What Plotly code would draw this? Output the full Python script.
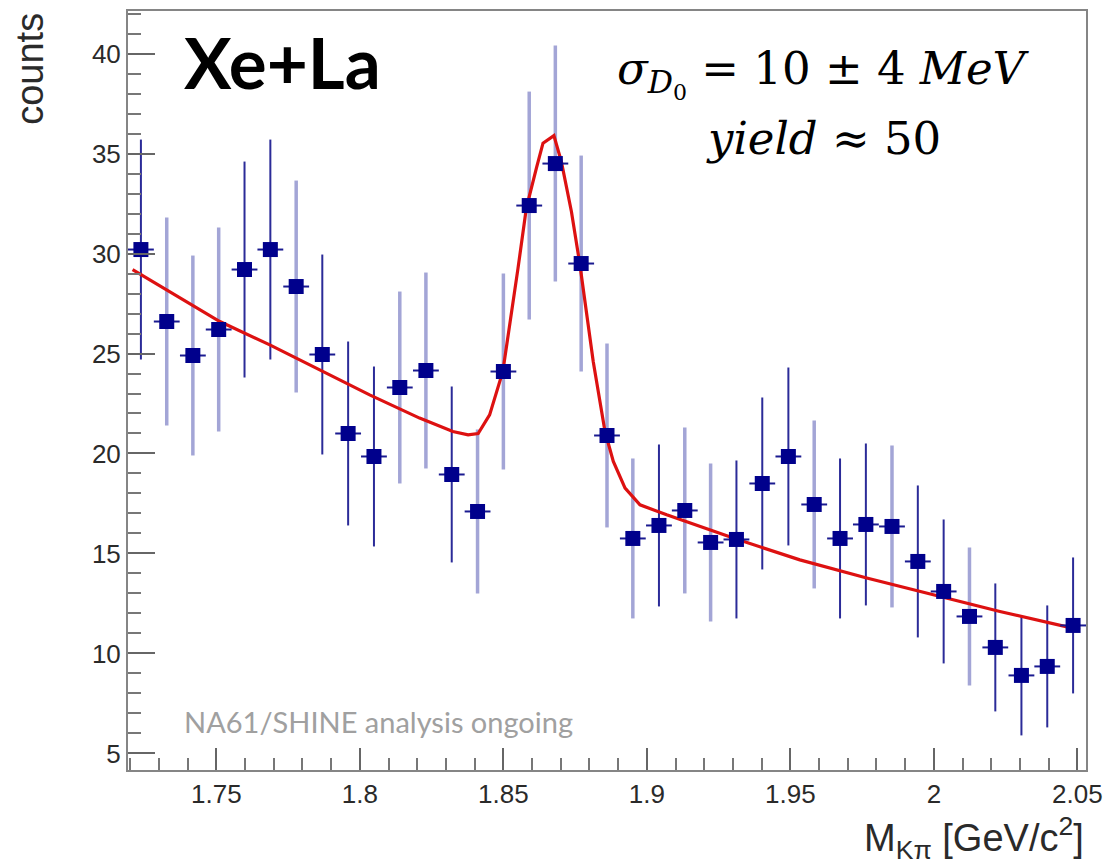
import plotly.graph_objects as go

# ---- data ----
mass = [1.7237, 1.7327, 1.7418, 1.7508, 1.7598, 1.7688, 1.7778, 1.7869, 1.7959,
        1.8049, 1.8139, 1.8230, 1.8320, 1.8410, 1.8500, 1.8590, 1.8681, 1.8771,
        1.8861, 1.8951, 1.9042, 1.9132, 1.9222, 1.9312, 1.9402, 1.9493, 1.9583,
        1.9673, 1.9763, 1.9854, 1.9944, 2.0034, 2.0124, 2.0214, 2.0305, 2.0395, 2.0485]
counts = [30.2, 26.6, 24.9, 26.2, 29.2, 30.2, 28.35, 24.95, 21.0, 19.85, 23.3, 24.15,
          18.95, 17.1, 24.1, 32.4, 34.5, 29.5, 20.9, 15.75, 16.4, 17.15, 15.55, 15.7,
          18.5, 19.85, 17.45, 15.75, 16.45, 16.35, 14.6, 13.1, 11.85, 10.3, 8.9, 9.35, 11.4]
count_err = [5.5, 5.2, 5.0, 5.1, 5.4, 5.5, 5.3, 5.0, 4.6, 4.5, 4.8, 4.9,
             4.4, 4.1, 4.9, 5.7, 5.9, 5.4, 4.6, 4.0, 4.05, 4.15, 3.95, 3.95,
             4.3, 4.45, 4.2, 4.0, 4.05, 4.05, 3.8, 3.6, 3.45, 3.2, 3.0, 3.05, 3.4]
half_bin = 0.0045

fit_x = [1.7208, 1.7512, 1.7686, 1.7860, 1.8034, 1.8208, 1.8324, 1.8377, 1.8412,
         1.8452, 1.8498, 1.8551, 1.8580, 1.8615, 1.8638, 1.8676, 1.8702, 1.8737,
         1.8766, 1.8813, 1.8854, 1.8883, 1.8924, 1.8976, 1.9069, 1.9301, 1.9533,
         1.9766, 1.9998, 2.0230, 2.0509]
fit_y = [29.2, 26.6, 25.43, 24.18, 22.93, 21.77, 21.1, 20.93, 21.0,
         21.93, 24.1, 29.27, 32.27, 34.27, 35.52, 35.9, 34.6, 32.1,
         29.5, 24.6, 21.1, 19.6, 18.27, 17.43, 16.93, 15.77, 14.68,
         13.77, 12.93, 12.1, 11.18]

x_tickvals = [1.75, 1.8, 1.85, 1.9, 1.95, 2.0, 2.05]
x_ticktext = ["1.75", "1.8", "1.85", "1.9", "1.95", "2", "2.05"]
y_tickvals = [5, 10, 15, 20, 25, 30, 35, 40]

# error bars that appear pale in the reference image (style only)
pale_idx = [1, 2, 3, 6, 10, 11, 13, 14, 15, 16, 17, 18, 19, 21, 22, 26, 29, 32]

fig = go.Figure()

def sub(lst, idx):
    return [lst[i] for i in idx]

dark_idx = [i for i in range(len(mass)) if i not in pale_idx]

fig.add_trace(go.Scatter(
    x=sub(mass, pale_idx), y=sub(counts, pale_idx), mode="markers",
    marker=dict(size=1, color="rgba(0,0,0,0)"),
    error_y=dict(type="data", array=sub(count_err, pale_idx), color="#a3a5d6",
                 thickness=3.5, width=0),
    showlegend=False, hoverinfo="skip"))
fig.add_trace(go.Scatter(
    x=sub(mass, dark_idx), y=sub(counts, dark_idx), mode="markers",
    marker=dict(size=1, color="rgba(0,0,0,0)"),
    error_y=dict(type="data", array=sub(count_err, dark_idx), color="#2b2b98",
                 thickness=2, width=0),
    showlegend=False, hoverinfo="skip"))

fig.add_trace(go.Scatter(
    x=fit_x, y=fit_y, mode="lines",
    line=dict(color="#dd1111", width=3.2),
    showlegend=False))

fig.add_trace(go.Scatter(
    x=mass, y=counts, mode="markers",
    marker=dict(symbol="square", size=15, color="#00008c"),
    error_x=dict(type="constant", value=half_bin, color="#1a1a90", thickness=2, width=0),
    showlegend=False))

tickfont = dict(family="Liberation Sans, Arial, sans-serif", size=26, color="#2a2a2a")

fig.update_xaxes(
    range=[1.7192, 2.0530], showgrid=False, zeroline=False,
    showline=True, linecolor="#858585", linewidth=2, mirror=True,
    ticks="inside", ticklen=22, tickwidth=1.5, tickcolor="#666",
    tickvals=x_tickvals, ticktext=x_ticktext, tickfont=tickfont,
    minor=dict(ticks="inside", ticklen=12, tickwidth=1.5, tickcolor="#777", dtick=0.01, tick0=1.72),
)
fig.update_yaxes(
    range=[4.17, 42.13], showgrid=False, zeroline=False,
    showline=True, linecolor="#858585", linewidth=2, mirror=True,
    ticks="inside", ticklen=27, tickwidth=1.5, tickcolor="#666",
    tickvals=y_tickvals, tickfont=tickfont,
    minor=dict(ticks="inside", ticklen=13, tickwidth=1.5, tickcolor="#777", dtick=1, tick0=0),
)

annotations = [
    dict(text="<b>Xe+La</b>", x=0.0560, y=0.9330, xref="paper", yref="paper",
         xanchor="left", yanchor="middle", showarrow=False,
         font=dict(family="Lato, sans-serif", size=71, color="black")),
    dict(text="<i>σ</i><sub><i>D</i><sub>0</sub></sub> = 10 ± 4 <i>MeV</i>", x=0.7265, y=0.9172,
         xref="paper", yref="paper", xanchor="center", yanchor="middle", showarrow=False,
         font=dict(family="DejaVu Serif, serif", size=45, color="black")),
    dict(text="<i>yield</i> ≈ 50", x=0.7265, y=0.8320,
         xref="paper", yref="paper", xanchor="center", yanchor="middle", showarrow=False,
         font=dict(family="DejaVu Serif, serif", size=45, color="black")),
    dict(text="NA61/SHINE analysis ongoing", x=0.0560, y=0.0644,
         xref="paper", yref="paper", xanchor="left", yanchor="middle", showarrow=False,
         font=dict(family="Lato, sans-serif", size=29, color="#a0a0a0")),
    dict(text="M<sub>Kπ</sub> [GeV/c<sup>2</sup>]", x=1.0, y=-0.0894,
         xref="paper", yref="paper", xanchor="right", yanchor="middle", showarrow=False,
         font=dict(family="Liberation Sans, Arial, sans-serif", size=38, color="#2a2a2a")),
    dict(text="counts", x=-0.1023, y=0.9238, textangle=-90,
         xref="paper", yref="paper", xanchor="center", yanchor="middle", showarrow=False,
         font=dict(family="Liberation Sans, Arial, sans-serif", size=38, color="#2a2a2a")),
]

fig.update_layout(
    width=1115, height=866, autosize=False,
    margin=dict(l=128, r=29, t=9, b=96),
    paper_bgcolor="white", plot_bgcolor="white",
    annotations=annotations,
)

fig.write_html("out.html")
